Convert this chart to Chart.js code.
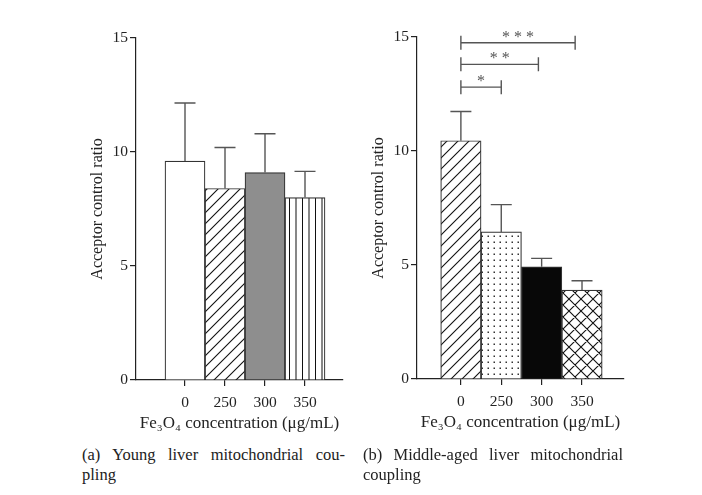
<!DOCTYPE html>
<html>
<head>
<meta charset="utf-8">
<script src="https://cdn.jsdelivr.net/npm/chart.js@4.4.1/dist/chart.umd.min.js"></script>
<style>
    body { margin: 0; background: #fff; }
    #wrap { position: relative; width: 702px; height: 495px; overflow: hidden; }
    canvas { position: absolute; }
    .cap { position: absolute; font: 16.5px 'Liberation Serif', serif; color: #222; line-height: 20px; }
    .cap .l1 { text-align: justify; text-align-last: justify; }
</style>
</head>
<body>
<div id="wrap">
    <canvas id="youngChart" style="left:0;top:0" width="350" height="440"></canvas>
    <canvas id="middleChart" style="left:281px;top:-1px" width="350" height="440"></canvas>
    <div class="cap" style="left:82px;top:445px;width:263px">
        <div class="l1">(a) Young liver mitochondrial cou-</div>
        <div>pling</div>
    </div>
    <div class="cap" style="left:363px;top:445px;width:260px">
        <div class="l1">(b) Middle-aged liver mitochondrial</div>
        <div>coupling</div>
    </div>
</div>
<script>
// data
const concentrations = ['0', '250', '300', '350'];

const youngMean = [9.6, 8.4, 9.1, 8.0];
const youngSd = [2.55, 1.8, 1.7, 1.15];

const middleMean = [10.45, 6.45, 4.92, 3.9];
const middleSd = [1.28, 1.2, 0.37, 0.41];

// significance brackets (right panel): from bar 0 to the given x position
const sigEnd = [1.0, 1.92, 2.83];
const sigLevel = [12.8, 13.8, 14.75];
const sigStars = ['*', '* *', '* * *'];

const FONT = "'Liberation Serif', serif";
const INK = '#222';

// ---- fill patterns ----
function makeTile(w, h, draw) {
    const c = document.createElement('canvas');
    c.width = w; c.height = h;
    const g = c.getContext('2d');
    g.fillStyle = '#fff';
    g.fillRect(0, 0, w, h);
    g.strokeStyle = '#111';
    g.fillStyle = '#111';
    g.lineWidth = 1.1;
    draw(g, w, h);
    return document.createElement('canvas').getContext('2d').createPattern(c, 'repeat');
}

function diagonal(s) {
    return makeTile(s, s, (g) => {
        g.beginPath();
        g.moveTo(0, s); g.lineTo(s, 0);
        g.moveTo(-2, 2); g.lineTo(2, -2);
        g.moveTo(s - 2, s + 2); g.lineTo(s + 2, s - 2);
        g.stroke();
    });
}

function crossHatch(s) {
    return makeTile(s, s, (g) => {
        g.beginPath();
        g.moveTo(0, s); g.lineTo(s, 0);
        g.moveTo(-2, 2); g.lineTo(2, -2);
        g.moveTo(s - 2, s + 2); g.lineTo(s + 2, s - 2);
        g.moveTo(0, 0); g.lineTo(s, s);
        g.moveTo(-2, s - 2); g.lineTo(2, s + 2);
        g.moveTo(s - 2, -2); g.lineTo(s + 2, 2);
        g.stroke();
    });
}

function verticalLines() {
    return makeTile(13, 4, (g) => {
        g.fillRect(3, 0, 1, 4);
        g.fillRect(9.5, 0, 1, 4);
    });
}

function dots() {
    return makeTile(6, 6, (g) => {
        g.fillStyle = '#333';
        g.fillRect(2.5, 2.5, 1.5, 1.5);
    });
}

// ---- plugins ----
const errorBars = {
    id: 'errorBars',
    afterDatasetsDraw(chart, args, opts) {
        const ctx = chart.ctx;
        const y = chart.scales.y;
        const meta = chart.getDatasetMeta(0);
        ctx.save();
        ctx.strokeStyle = '#555';
        ctx.lineWidth = 1.4;
        meta.data.forEach((bar, i) => {
            const top = y.getPixelForValue(opts.mean[i] + opts.sd[i]);
            ctx.beginPath();
            ctx.moveTo(bar.x, bar.y);
            ctx.lineTo(bar.x, top);
            ctx.moveTo(bar.x - 10.5, top);
            ctx.lineTo(bar.x + 10.5, top);
            ctx.stroke();
        });
        ctx.restore();
    }
};

const sigBrackets = {
    id: 'sigBrackets',
    afterDraw(chart, args, opts) {
        if (!opts.ends) return;
        const ctx = chart.ctx;
        const x = chart.scales.x, y = chart.scales.y;
        ctx.save();
        ctx.strokeStyle = '#555';
        ctx.fillStyle = '#555';
        ctx.lineWidth = 1.4;
        ctx.font = '16px ' + FONT;
        ctx.textAlign = 'center';
        ctx.textBaseline = 'alphabetic';
        opts.ends.forEach((end, i) => {
            const x0 = x.getPixelForValue(0);
            const x1 = x.getPixelForValue(end);
            const yy = y.getPixelForValue(opts.levels[i]);
            ctx.beginPath();
            ctx.moveTo(x0, yy); ctx.lineTo(x1, yy);
            ctx.moveTo(x0, yy - 7); ctx.lineTo(x0, yy + 7);
            ctx.moveTo(x1, yy - 7); ctx.lineTo(x1, yy + 7);
            ctx.stroke();
            ctx.fillText(opts.stars[i], (x0 + x1) / 2, yy - 1);
        });
        ctx.restore();
    }
};

// ---- chart ----
function createPanel(id, means, sds, fills, xMin, xMax, sig) {
    const ctx = document.getElementById(id).getContext('2d');
    return new Chart(ctx, {
        type: 'bar',
        data: {
            datasets: [{
                data: means.map((v, i) => ({ x: i, y: v })),
                backgroundColor: fills,
                borderColor: '#333',
                borderWidth: 1.2,
                barPercentage: 1,
                categoryPercentage: 1
            }]
        },
        options: {
            responsive: false,
            animation: false,
            events: [],
            layout: { padding: { left: 80, top: 38, right: 7, bottom: 0 } },
            plugins: {
                legend: { display: false },
                tooltip: { enabled: false },
                errorBars: { mean: means, sd: sds },
                sigBrackets: sig || {}
            },
            scales: {
                x: {
                    type: 'linear',
                    min: xMin,
                    max: xMax,
                    offset: false,
                    afterBuildTicks: (s) => { s.ticks = concentrations.map((c, i) => ({ value: i })); },
                    afterFit: (s) => { s.height = 60; },
                    ticks: {
                        callback: (v) => concentrations[v],
                        font: { family: FONT, size: 15.5 },
                        color: INK,
                        padding: 8,
                        maxRotation: 0,
                        autoSkip: false
                    },
                    grid: { offset: false, drawOnChartArea: false, tickLength: 6, color: INK, lineWidth: 1.2 },
                    border: { color: INK, width: 1.2 },
                    title: {
                        display: true,
                        text: 'Fe₃O₄ concentration (μg/mL)',
                        font: { family: FONT, size: 17 },
                        color: INK,
                        padding: { top: 0, bottom: 6 }
                    }
                },
                y: {
                    min: 0,
                    max: 15,
                    afterFit: (s) => { s.width = 56; },
                    ticks: {
                        stepSize: 5,
                        font: { family: FONT, size: 15.5 },
                        color: INK,
                        padding: 2
                    },
                    grid: { drawOnChartArea: false, tickLength: 6, color: INK, lineWidth: 1.2 },
                    border: { color: INK, width: 1.2 },
                    title: {
                        display: true,
                        text: 'Acceptor control ratio',
                        font: { family: FONT, size: 16 },
                        color: INK,
                        padding: { top: 8, bottom: 0 }
                    }
                }
            }
        },
        plugins: [errorBars, sigBrackets]
    });
}

createPanel('youngChart', youngMean, youngSd,
    ['#fff', diagonal(11), '#8e8e8e', verticalLines()],
    -1.225, 3.95);

createPanel('middleChart', middleMean, middleSd,
    [diagonal(11), dots(), '#080808', crossHatch(12)],
    -1.087, 4.04,
    { ends: sigEnd, levels: sigLevel, stars: sigStars });
</script>
</body>
</html>
